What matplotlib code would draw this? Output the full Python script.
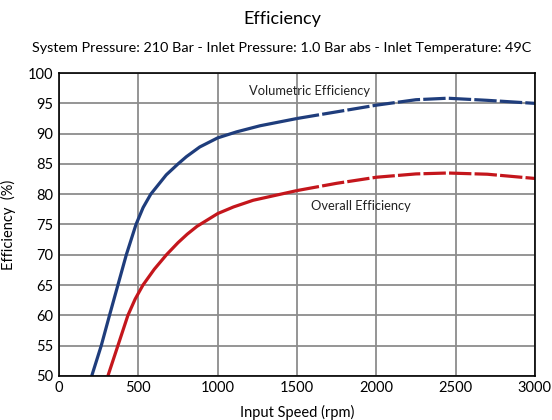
import matplotlib.pyplot as plt

plt.rcParams['font.family'] = ['Lato', 'DejaVu Sans']

# Volumetric efficiency (blue)
vol_rpm = [206, 266, 318, 371, 424, 485, 530, 578, 676, 750, 803, 887, 1000, 1120, 1267,
           1500, 1750, 2000, 2250, 2450, 2700, 3000]
vol_eff = [50, 55, 60, 65, 70, 75, 77.8, 80, 83.2, 85, 86.2, 87.8, 89.3, 90.3, 91.3,
           92.5, 93.6, 94.7, 95.6, 95.85, 95.5, 95.0]

# Overall efficiency (red)
ov_rpm = [308, 371, 434, 480, 529, 600, 677, 750, 808, 870, 1000, 1100, 1224, 1500, 1750,
          2000, 2250, 2450, 2700, 3000]
ov_eff = [50, 55, 60, 62.7, 65, 67.6, 70, 72.0, 73.4, 74.7, 76.8, 77.9, 79.0, 80.6, 81.8,
          82.8, 83.35, 83.5, 83.3, 82.6]

x_ticks = [0, 500, 1000, 1500, 2000, 2500, 3000]
y_ticks = [50, 55, 60, 65, 70, 75, 80, 85, 90, 95, 100]

blue = '#1f3d7c'
red = '#c4161c'

fig = plt.figure(figsize=(5.52, 4.2), dpi=100)
ax = fig.add_axes([0.107, 0.105, 0.862, 0.721])

# solid part then the dashed-looking flat part
split_v = vol_rpm.index(1500)
split_o = ov_rpm.index(1500)
ax.plot(vol_rpm[:split_v + 1], vol_eff[:split_v + 1], color=blue, lw=2.3,
        solid_capstyle='butt', solid_joinstyle='round')
ax.plot(vol_rpm[split_v:], vol_eff[split_v:], color=blue, lw=2.3, dashes=(7, 1))
ax.plot(ov_rpm[:split_o + 1], ov_eff[:split_o + 1], color=red, lw=2.3,
        solid_capstyle='butt', solid_joinstyle='round')
ax.plot(ov_rpm[split_o:], ov_eff[split_o:], color=red, lw=2.3, dashes=(7, 1))

ax.text(1580, 97.0, 'Volumetric Efficiency', fontsize=9.3, ha='center', va='center', color='#222222')
ax.text(1900, 78.0, 'Overall Efficiency', fontsize=9.3, ha='center', va='center', color='#222222')

ax.set_xlim(0, 3000)
ax.set_ylim(50, 100)
ax.set_xticks(x_ticks)
ax.set_yticks(y_ticks)
ax.tick_params(length=0, labelsize=10.5, pad=4)
ax.grid(True, color='#8c8c8c', lw=1.3)
ax.set_axisbelow(True)
for s in ax.spines.values():
    s.set_color('black')
    s.set_linewidth(1.2)

ax.set_xlabel('Input Speed (rpm)', fontsize=10.5, labelpad=7)
ax.set_ylabel('Efficiency  (%)', fontsize=10.5, labelpad=9)

fig.text(0.511, 0.955, 'Efficiency', fontsize=13, ha='center', va='center')
fig.text(0.51, 0.885, 'System Pressure: 210 Bar - Inlet Pressure: 1.0 Bar abs - Inlet Temperature: 49C',
         fontsize=10.4, ha='center', va='center')

fig.savefig('out.png', dpi=100)
